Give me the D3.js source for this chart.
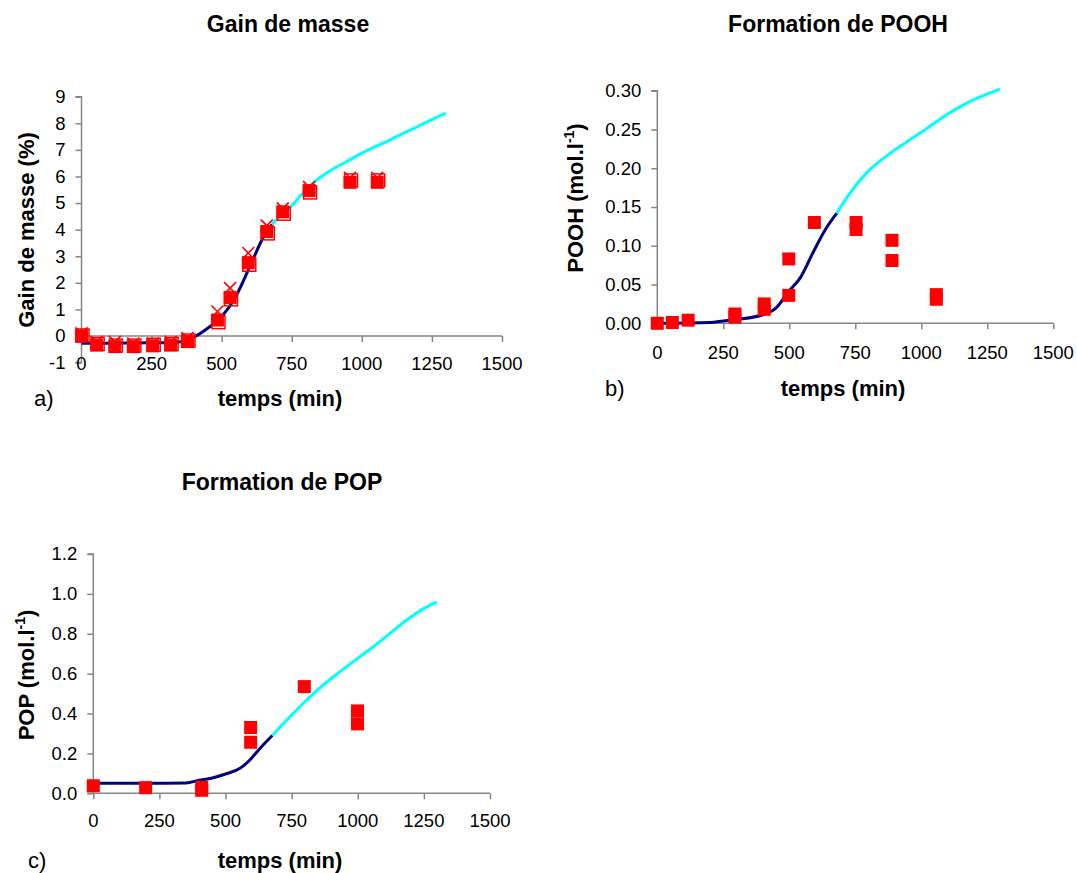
<!DOCTYPE html>
<html><head><meta charset="utf-8">
<script src="https://cdn.jsdelivr.net/npm/d3@7"></script>
<style>body{margin:0;background:#fff}svg{display:block}text{font-family:Arial,"Liberation Sans",sans-serif}</style>
</head><body><svg id="c" width="1077" height="873"></svg>
<script>
// ---------- DATA ----------
const xTicks = [0, 250, 500, 750, 1000, 1250, 1500];

// Panel a: Gain de masse (%)
const aTicksY = [-1, 0, 1, 2, 3, 4, 5, 6, 7, 8, 9];
const aExpX = [0, 54, 119, 185, 254, 318, 378, 485, 530, 595, 661, 718, 812, 958, 1055];
const aExpSq = [0, -0.34, -0.4, -0.4, -0.37, -0.34, -0.21, 0.6, 1.45, 2.76, 3.93, 4.67, 5.47, 5.78, 5.78];
const aExpSq2 = [0.02, -0.3, -0.36, -0.36, -0.33, -0.3, -0.17, 0.52, 1.38, 2.68, 3.86, 4.6, 5.4, 5.85, 5.85];
const aExpX2 = [0.1, -0.22, -0.22, -0.28, -0.28, -0.22, -0.08, 0.92, 1.8, 3.12, 4.15, 4.8, 5.6, 5.95, 5.95];
const aModX1 = [0, 100, 200, 300, 360, 400, 450, 500, 550, 600, 650, 680];
const aModY1 = [-0.27, -0.27, -0.26, -0.25, -0.22, -0.05, 0.29, 0.73, 1.48, 2.6, 3.74, 4.2];
const aModX2 = [680, 718, 750, 800, 850, 900, 950, 1000, 1050, 1100, 1150, 1200, 1250, 1300];
const aModY2 = [4.2, 4.6, 4.9, 5.5, 5.95, 6.3, 6.58, 6.88, 7.13, 7.37, 7.63, 7.88, 8.14, 8.38];

// Panel b: POOH (mol.l-1)
const bTicksY = [0, 0.05, 0.10, 0.15, 0.20, 0.25, 0.30];
const bExpX = [0, 57, 117, 294, 294, 405, 405, 498, 498, 595, 753, 753, 889, 889, 1057, 1057];
const bExpY = [0, 0.001, 0.004, 0.008, 0.012, 0.018, 0.025, 0.083, 0.036, 0.130, 0.121, 0.130, 0.107, 0.081, 0.031, 0.037];
const bModX1 = [0, 200, 250, 300, 400, 450, 500, 540, 591, 635, 680];
const bModY1 = [0, 0.001, 0.003, 0.005, 0.011, 0.02, 0.042, 0.058, 0.092, 0.12, 0.142];
const bModX2 = [680, 730, 793, 869, 945, 1020, 1096, 1172, 1298];
const bModY2 = [0.142, 0.168, 0.194, 0.216, 0.234, 0.251, 0.269, 0.284, 0.302];

// Panel c: POP (mol.l-1)
const cTicksY = [0, 0.2, 0.4, 0.6, 0.8, 1.0, 1.2];
const cExpX = [0, 198, 410, 410, 595, 595, 798, 999, 999];
const cExpY = [0.038, 0.028, 0.015, 0.03, 0.33, 0.256, 0.535, 0.413, 0.348];
const cModX1 = [0, 200, 350, 400, 450, 500, 555, 592, 630, 677];
const cModY1 = [0.05, 0.05, 0.052, 0.065, 0.077, 0.097, 0.125, 0.167, 0.225, 0.29];
const cModX2 = [677, 744, 807, 870, 933, 996, 1059, 1122, 1185, 1248, 1299];
const cModY2 = [0.29, 0.384, 0.468, 0.543, 0.61, 0.673, 0.735, 0.802, 0.869, 0.925, 0.96];

// ---------- DRAW ----------
const svg = d3.select('#c');
const AX = '#868686';
const TICKFS = 18.5;

function panel(o) {
  const x = d3.scaleLinear().domain([0, 1500]).range([o.x0, o.x1]);
  const y = d3.scaleLinear().domain([o.yTicks[0], o.yTicks[o.yTicks.length - 1]]).range([o.yb, o.yt]);
  const g = svg.append('g');
  const y0 = y(o.xCross);
  const ya = g.append('g').attr('transform', `translate(${o.x0},0)`)
    .call(d3.axisLeft(y).tickValues(o.yTicks).tickFormat(o.fmt).tickSize(6).tickPadding(10));
  const xa = g.append('g').attr('transform', `translate(0,${y0})`)
    .call(d3.axisBottom(x).tickValues(xTicks).tickFormat('').tickSize(6));
  g.append('g').selectAll('text').data(xTicks).join('text')
    .attr('x', d => x(d)).attr('y', o.xLabY).attr('text-anchor', 'middle')
    .attr('font-size', TICKFS).attr('fill', '#000').text(d => d);
  [ya, xa].forEach(a => {
    a.select('.domain').attr('stroke', AX).attr('stroke-width', 1.5);
    a.selectAll('.tick line').attr('stroke', AX).attr('stroke-width', 1.5);
    a.selectAll('.tick text').attr('font-size', TICKFS).attr('fill', '#000').attr('font-family', 'Arial, Liberation Sans, sans-serif');
  });
  ya.select('.domain').attr('d', `M-6,${o.yb}H0V${o.yt}H-6`);
  xa.select('.domain').attr('d', `M${o.x0},0H${o.x1}`);

  const line = d3.line().x(d => x(d[0])).y(d => y(d[1])).curve(d3.curveMonotoneX);
  g.append('path').datum(d3.zip(o.m1x, o.m1y)).attr('d', line)
    .attr('fill', 'none').attr('stroke', '#000080').attr('stroke-width', 3).attr('stroke-linejoin', 'round');
  g.append('path').datum(d3.zip(o.m2x, o.m2y)).attr('d', line)
    .attr('fill', 'none').attr('stroke', '#00ffff').attr('stroke-width', 3).attr('stroke-linejoin', 'round');

  const s = 13;
  if (o.sq2) {
    g.append('g').selectAll('rect').data(d3.zip(o.ex, o.sq2)).join('rect')
      .attr('x', d => x(d[0]) - s / 2 + 1).attr('y', d => y(d[1]) - s / 2)
      .attr('width', s).attr('height', s).attr('fill', 'none').attr('stroke', '#ff0000').attr('stroke-width', 1.5);
  }
  g.append('g').selectAll('rect').data(d3.zip(o.ex, o.ey)).join('rect')
    .attr('x', d => x(d[0]) - s / 2).attr('y', d => y(d[1]) - s / 2)
    .attr('width', s).attr('height', s).attr('fill', '#ff0000');
  if (o.cross) {
    const c = 6;
    g.append('g').selectAll('path').data(d3.zip(o.ex, o.cross)).join('path')
      .attr('d', d => { const px = x(d[0]), py = y(d[1]); return `M${px - c},${py - c}L${px + c},${py + c}M${px + c},${py - c}L${px - c},${py + c}`; })
      .attr('stroke', '#ff0000').attr('stroke-width', 1.6).attr('fill', 'none');
  }

  svg.append('text').attr('x', o.tx).attr('y', o.ty).attr('text-anchor', 'middle')
    .attr('font-size', 23).attr('font-weight', 'bold').text(o.title);
  svg.append('text').attr('x', o.xlx).attr('y', o.xly).attr('text-anchor', 'middle')
    .attr('font-size', 22).attr('font-weight', 'bold').text('temps (min)');
  const yl = svg.append('text').attr('transform', `translate(${o.ylx},${o.yly}) rotate(-90)`)
    .attr('text-anchor', 'middle').attr('font-size', 22).attr('font-weight', 'bold');
  yl.append('tspan').text(o.ylab);
  if (o.sup) {
    yl.append('tspan').attr('font-size', 14).attr('dy', -9).text('-1');
    yl.append('tspan').attr('dy', 9).text(')');
  }
  svg.append('text').attr('x', o.lx).attr('y', o.ly).attr('font-size', 22).text(o.letter);
}

panel({
  x0: 81.5, x1: 502, yt: 96.7, yb: 362.6, yTicks: aTicksY, xCross: 0, fmt: d => String(d), xLabY: 369.5,
  ex: aExpX, ey: aExpSq, sq2: aExpSq2, cross: aExpX2,
  m1x: aModX1, m1y: aModY1, m2x: aModX2, m2y: aModY2,
  title: 'Gain de masse', tx: 288, ty: 32, xlx: 280, xly: 406, ylab: 'Gain de masse (%)', ylx: 34, yly: 230,
  letter: 'a)', lx: 34, ly: 406
});
panel({
  x0: 657.3, x1: 1053.3, yt: 90.7, yb: 323.3, yTicks: bTicksY, xCross: 0, fmt: d3.format('.2f'), xLabY: 359,
  ex: bExpX, ey: bExpY,
  m1x: bModX1, m1y: bModY1, m2x: bModX2, m2y: bModY2,
  title: 'Formation de POOH', tx: 838, ty: 32, xlx: 843, xly: 396, ylab: 'POOH (mol.l', sup: true, ylx: 583, yly: 198,
  letter: 'b)', lx: 605, ly: 396
});
panel({
  x0: 93.3, x1: 490, yt: 554, yb: 793.3, yTicks: cTicksY, xCross: 0, fmt: d3.format('.1f'), xLabY: 826.5,
  ex: cExpX, ey: cExpY,
  m1x: cModX1, m1y: cModY1, m2x: cModX2, m2y: cModY2,
  title: 'Formation de POP', tx: 282, ty: 490, xlx: 280, xly: 868, ylab: 'POP (mol.l', sup: true, ylx: 34, yly: 675,
  letter: 'c)', lx: 28, ly: 868
});
</script></body></html>
